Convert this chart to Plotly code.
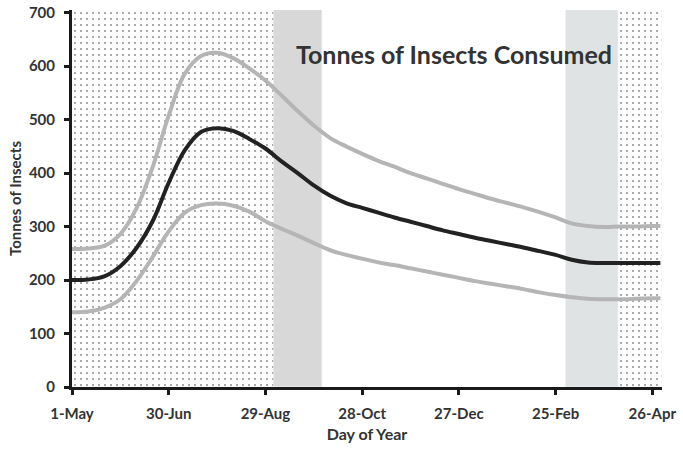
import plotly.graph_objects as go

# day 0 = 1 May
day = list(range(0, 370, 10))[:37] + [365]
mean_t = [200, 201, 207, 226, 260, 310, 382, 443, 477, 484, 479, 464, 446, 422,
          400, 377, 358, 344, 335, 326, 317, 309, 301, 293, 286, 279, 273, 267,
          261, 254, 247, 238, 233, 232, 232, 232, 232, 232]
upper_t = [258, 259, 264, 286, 334, 411, 508, 586, 619, 625, 615, 596, 573, 545,
           516, 489, 466, 450, 436, 423, 412, 400, 390, 380, 370, 361, 352, 344,
           336, 327, 317, 306, 301, 299, 300, 300, 301, 301]
lower_t = [140, 141, 148, 164, 198, 243, 291, 326, 340, 343, 339, 328, 310, 296,
           283, 269, 256, 247, 240, 233, 228, 222, 216, 210, 204, 198, 193, 188,
           183, 177, 172, 168, 165, 164, 164, 165, 166, 166]

tick_days = [0, 60, 120, 180, 240, 300, 360]
tick_labels = ["1-May", "30-Jun", "29-Aug", "28-Oct", "27-Dec", "25-Feb", "26-Apr"]

# shaded periods (start, end day)
dotted_start = [0, 338.5]
dotted_end = [125.3, 366]
grey_start = [125.3]
grey_end = [155]
pale_start = [306.5]
pale_end = [338.5]

Y_TOP = 705
FONT = "Lato"
TXT = "#333333"


def band(starts, ends, **marker):
    return go.Bar(
        x=[(s + e) / 2 for s, e in zip(starts, ends)],
        y=[Y_TOP] * len(starts),
        width=[e - s for s, e in zip(starts, ends)],
        marker=marker,
        hoverinfo="skip",
        showlegend=False,
    )


fig = go.Figure()
fig.add_trace(band(dotted_start, dotted_end, color="white",
                   pattern=dict(shape=".", fgcolor="#1e1e1e", size=6, solidity=0.09)))
fig.add_trace(band(grey_start, grey_end, color="#d8d8d8"))
fig.add_trace(band(pale_start, pale_end, color="#e0e3e4"))

for ys, col in [(upper_t, "#b5b5b5"), (lower_t, "#b5b5b5"), (mean_t, "#222222")]:
    fig.add_trace(go.Scatter(x=day, y=ys, mode="lines",
                             line=dict(color=col, width=4, shape="spline", smoothing=1.0),
                             showlegend=False))

fig.add_annotation(text="Tonnes of Insects Consumed", xref="paper", yref="paper",
                   x=0.647, y=0.882, xanchor="center", yanchor="middle", showarrow=False,
                   font=dict(family=FONT, size=25, color=TXT, weight="bold"))

fig.update_layout(
    width=683, height=453,
    margin=dict(l=72, r=21, t=10, b=66),
    plot_bgcolor="white", paper_bgcolor="white",
    barmode="overlay", bargap=0,
    font=dict(family=FONT, color=TXT),
)
fig.update_xaxes(
    range=[0, 366], tickvals=tick_days, ticktext=tick_labels,
    showgrid=False, zeroline=False, automargin=False,
    showline=True, linecolor="#1a1a1a", linewidth=3,
    ticks="outside", ticklen=5, tickwidth=3, tickcolor="#1a1a1a",
    ticklabelstandoff=6, ticklabeloverflow="allow",
    tickfont=dict(family=FONT, size=15, weight="bold", color=TXT),
    title=dict(text="Day of Year", font=dict(family=FONT, size=16, weight="bold", color=TXT), standoff=8),
)
fig.update_yaxes(
    range=[0, Y_TOP], tickvals=[0, 100, 200, 300, 400, 500, 600, 700],
    showgrid=False, zeroline=False, automargin=False,
    showline=True, linecolor="#1a1a1a", linewidth=3,
    ticks="outside", ticklen=5, tickwidth=3, tickcolor="#1a1a1a",
    ticklabelstandoff=6, ticklabeloverflow="allow",
    tickfont=dict(family=FONT, size=15, weight="bold", color=TXT),
    title=dict(text="Tonnes of Insects", font=dict(family=FONT, size=15, weight="bold", color=TXT), standoff=4),
)

# drop the browser's default 8px body margin so the figure sits at the window's corner
fig.write_html("out.html", config={"displayModeBar": False},
               post_script="document.body.style.margin = '0';")
